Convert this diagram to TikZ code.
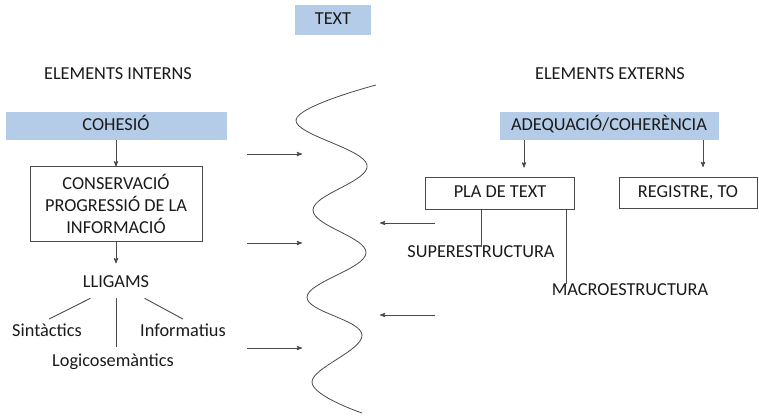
\documentclass[tikz,border=0pt]{standalone}
\usepackage{fontspec}
\setmainfont{Carlito}
\usetikzlibrary{positioning,arrows}
\definecolor{boxblue}{HTML}{B4CCE8}
\definecolor{ink}{HTML}{1A1A1A}
\definecolor{wire}{HTML}{4A4A4A}

\begin{document}
\begin{tikzpicture}[x=1pt,y=-1pt,>=stealth',line width=0.9pt,color=wire,text=ink,
                font=\fontsize{18.3}{22}\selectfont]
        \tikzstyle{lbl}=[text height=13pt,text depth=4pt,inner sep=2pt]
        \tikzstyle{bluebox}=[lbl,fill=boxblue,minimum height=28pt,inner sep=0pt]
        \tikzstyle{linebox}=[draw=wire,align=center,inner sep=0pt]

        \useasboundingbox (0,0) rectangle (759,416);

        \node[bluebox,minimum width=76pt,minimum height=30pt] (text) at (333,20) {TEXT};
        \node[lbl] (intern) at (118,75) {ELEMENTS INTERNS};
        \node[lbl] (extern) at (610,75) {ELEMENTS EXTERNS};

        % elements interns
        \node[bluebox,minimum width=221pt] (cohesio) at (116,126) {COHESIÓ};
        \node[linebox,minimum width=172pt,minimum height=75pt] (conserv) [below=26pt of cohesio]
                {CONSERVACIÓ\\PROGRESSIÓ DE LA\\INFORMACIÓ};
        \node[lbl] (lligams) [below=30pt of conserv] {LLIGAMS};
        \node[lbl] (sint) at (47,332) {Sintàctics};
        \node[lbl] (info) at (183,332) {Informatius};
        \node[lbl] (logic) at (113,362) {Logicosemàntics};

        \draw[->] (cohesio) -- (conserv);
        \draw[->,shorten >=9pt] (conserv) -- (lligams);
        \draw ([xshift=10pt,yshift=-4pt]lligams.south west) -- ([xshift=2pt,yshift=2pt]sint.north);
        \draw ([yshift=-4pt]lligams.south) -- ([yshift=4pt]lligams.south |- logic.north);
        \draw ([xshift=-7pt,yshift=-4pt]lligams.south east) -- ([yshift=2pt]info.north);

        % elements externs
        \node[bluebox,minimum width=219pt] (adeq) at (609,126) {ADEQUACIÓ/COHERÈNCIA};
        \node[linebox,lbl,minimum width=149pt,minimum height=32pt,inner sep=0pt] (pla) at (500,193) {PLA DE TEXT};
        \node[linebox,lbl,minimum width=138pt,minimum height=31pt,inner sep=0pt] (reg) at (688,193) {REGISTRE, TO};
        \node[lbl] (super) at (481,253) {SUPERESTRUCTURA};
        \node[lbl] (macro) at (630,291) {MACROESTRUCTURA};
        \coordinate (mtop) at ([xshift=17pt,yshift=-4pt]macro.north west);

        \draw[->,shorten >=9pt] ([xshift=24pt]pla.north |- adeq.south) -- ([xshift=24pt]pla.north);
        \draw[->,shorten >=10pt] ([xshift=15pt]reg.north |- adeq.south) -- ([xshift=15pt]reg.north);
        \draw (pla.south -| super.north) -- ([yshift=-5pt]super.north);
        \draw (pla.south -| mtop) -- (mtop);

        % el text
        \draw[line width=0.8pt] plot[smooth,tension=0.65] coordinates {(376,85) (296,120) (367,165)
                (313,210) (366,253) (307,297) (362,335) (312,382) (362,413)};

        \foreach \y [count=\i] in {154,243,348} {
                \coordinate (a\i) at (247,\y);
                \coordinate (b\i) at (302,\y);
                \draw[->] (a\i) -- (b\i);
        }
        \foreach \y [count=\i] in {223,315} {
                \coordinate (c\i) at (435,\y);
                \coordinate (d\i) at (380,\y);
                \draw[->] (c\i) -- (d\i);
        }

\end{tikzpicture}
\end{document}
